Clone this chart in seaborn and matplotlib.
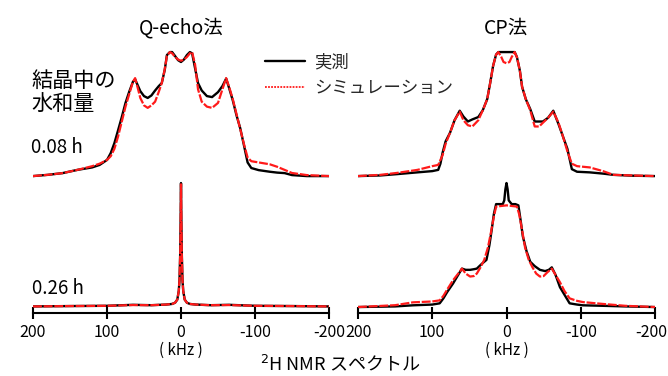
import matplotlib
matplotlib.use("Agg")
import matplotlib.pyplot as plt
import matplotlib.transforms as mtransforms
from matplotlib.lines import Line2D
import seaborn as sns
import pandas as pd

# ---------------- data (relative intensity, %) ----------------
freq_ticks = [200, 100, 0, -100, -200]
tick_labels = ["200", "100", "0", "-100", "-200"]
panel_titles = ["Q-echo法", "CP法"]
row_labels = ["0.08 h", "0.26 h"]
legend_labels = ["実測", "シミュレーション"]

# Q-echo, 0.08 h
qe08_x = [200, 180, 160, 140, 120, 110, 100, 95, 90, 85, 80, 75, 70, 65, 62, 58, 55, 50, 45, 40,
          35, 30, 26, 22, 19, 15, 12, 8, 4, 0, -4, -8, -12, -15, -19, -23, -28, -35, -42, -50,
          -56, -61, -65, -70, -75, -80, -85, -90, -95, -105, -120, -130, -140, -150, -170, -200]
qe08_meas = [0, 1, 2.4, 5, 7, 9, 13, 18.5, 26.6, 37, 47.6, 59, 68, 76, 78, 72.6, 68.5, 64.5, 63, 65,
             69, 72.6, 75, 85.5, 97.6, 100, 100, 96.8, 93.5, 92, 94, 97.6, 100, 99, 87, 75, 69, 64.5, 63.7, 67.7,
             72.6, 78.6, 71, 61, 49, 38.7, 25, 11, 6.5, 4.8, 3.5, 2.8, 2.4, 0.8, 0, 0]
qe08_sim = [0, 1, 2.4, 5, 8, 10, 13, 16, 22, 32, 44, 56, 66, 76, 79, 70, 63, 57, 55, 57,
            60, 68, 75, 86, 97, 100, 99, 96, 94, 93, 94, 96, 99, 100, 90, 70, 60, 56, 55, 59,
            70, 79, 72, 62, 50, 38, 26, 15, 12, 11, 9.5, 7.5, 5, 2.5, 0.8, 0]

# Q-echo, 0.26 h
qe26_x = [200, 150, 100, 65, 40, 20, 12, 8, 5, 3, 2, 1, 0.5, 0, -0.5, -1, -2, -3, -5, -8, -12,
          -20, -40, -65, -100, -150, -200]
qe26_meas = [0.5, 0.8, 1, 1.8, 1.5, 2, 2.5, 3.5, 6, 13, 22, 45, 70, 100, 70, 45, 22, 13, 6, 3.5, 2.5,
             2, 1.5, 1.8, 1, 0.8, 0.5]
qe26_sim = [0.5, 0.8, 1, 1.6, 1.5, 2, 2.5, 3.5, 6, 13, 22, 45, 70, 99, 70, 45, 22, 13, 6, 3.5, 2.5,
            2, 1.5, 1.6, 1, 0.8, 0.5]

# CP, 0.08 h
cp08_x = [200, 170, 147, 120, 100, 92, 89, 86, 82, 76, 70, 63, 58, 52, 46, 38, 32, 26, 22, 18, 14,
          11, 7, 4, 0, -4, -7, -11, -14, -18, -21, -26, -32, -38, -44, -49, -56, -63, -70, -76,
          -82, -88, -95, -112, -130, -144, -170, -200]
cp08_meas = [0, 0.5, 1.6, 3, 4, 5, 10, 19, 28, 35, 45, 52.7, 48, 44, 45.7, 47.6, 53, 62, 75, 89, 98,
             100, 100, 100, 100, 100, 100, 100, 96, 85, 72, 62, 54, 44, 44, 44, 47, 52.7, 42, 32,
             22, 5.6, 3.5, 3, 2, 1, 0.3, 0]
cp08_sim = [0, 1, 2.6, 5, 8, 9, 13, 17, 26, 35, 45, 52, 45, 41, 40, 45, 53, 62, 75, 89, 98,
            100, 96, 92, 91, 92, 96, 100, 96, 85, 72, 62, 53, 40, 40, 43, 47, 52, 43, 32,
            20, 10, 8, 7, 4, 1, 0.5, 0]

# CP, 0.26 h
cp26_x_meas = [200, 150, 126, 100, 90, 85, 80, 72, 65, 60, 55, 49, 44, 40, 33, 27, 23, 20, 17, 14,
               10, 5, 3, 1.5, 0, -1.5, -3, -7, -12, -16, -19, -22, -27, -32, -38, -45, -52, -57,
               -61, -66, -72, -78, -85, -95, -103, -130, -160, -200]
cp26_meas = [0, 0.5, 1.4, 2, 3, 7, 12, 19, 26, 31, 30, 30, 30.5, 31, 35, 38, 50, 62, 75, 83,
             83, 83, 86, 95, 100, 95, 86, 83, 83, 82, 70, 57, 45, 36.5, 33, 30, 29, 30,
             32, 26, 16, 10, 3, 2, 1.4, 1, 0.5, 0]
cp26_x_sim = [200, 150, 126, 100, 90, 85, 80, 72, 65, 60, 55, 49, 44, 40, 35, 30, 25, 21, 17, 14,
              0, -14, -17, -21, -25, -30, -35, -40, -45, -50, -55, -61, -66, -72, -78, -85, -95,
              -103, -130, -160, -200]
cp26_sim = [0, 1.5, 3.8, 4.5, 5.4, 9, 14, 21.6, 27, 31, 27, 24.6, 25, 27, 32, 38, 48, 60, 73, 81,
            82, 81, 75, 62, 48, 38, 32, 27, 24.6, 25, 28, 31, 26, 20, 13, 7, 5,
            4, 2.5, 1, 0]

# ---------------- style ----------------
sns.set_theme(style="white")
plt.rcParams["font.family"] = ["Noto Sans CJK JP", "DejaVu Sans"]
plt.rcParams["axes.unicode_minus"] = False

W, H = 668, 376
fig = plt.figure(figsize=(W / 100, H / 100), dpi=100)

TOP_OFFSET = 105.6
YLIM = (-4.8, 211.3)
ax_bottom = (H - 313) / H
ax_height = 268 / H
axes = [fig.add_axes([33 / W, ax_bottom, 296 / W, ax_height]),
        fig.add_axes([358 / W, ax_bottom, 297 / W, ax_height])]

panels = [
    [(qe08_x, qe08_meas, qe08_x, qe08_sim, TOP_OFFSET), (qe26_x, qe26_meas, qe26_x, qe26_sim, 0.0)],
    [(cp08_x, cp08_meas, cp08_x, cp08_sim, TOP_OFFSET), (cp26_x_meas, cp26_meas, cp26_x_sim, cp26_sim, 0.0)],
]

for ax, spectra in zip(axes, panels):
    for xm, ym, xs, ys, off in spectra:
        dm = pd.DataFrame({"f": xm, "I": [v + off for v in ym]})
        ds = pd.DataFrame({"f": xs, "I": [v + off for v in ys]})
        sns.lineplot(data=dm, x="f", y="I", ax=ax, color="black", lw=1.7,
                     sort=False, estimator=None)
        sns.lineplot(data=ds, x="f", y="I", ax=ax, color="#ff1a1a", lw=1.6,
                     sort=False, estimator=None, dashes=False)
        ax.lines[-1].set_linestyle((0, (4, 0.8)))
    ax.set_xlim(200, -200)
    ax.set_ylim(*YLIM)
    ax.set_xticks(freq_ticks)
    ax.set_xticklabels(tick_labels, fontsize=11.5)
    ax.set_xlabel("")
    ax.set_ylabel("")
    ax.set_yticks([])
    for s in ["left", "right", "top"]:
        ax.spines[s].set_visible(False)
    ax.spines["bottom"].set_color("black")
    ax.spines["bottom"].set_linewidth(1.5)
    ax.tick_params(axis="x", bottom=True, direction="inout", length=8, width=1.5,
                   color="black", pad=4, labelcolor="black")
    ax.patch.set_alpha(0)
    ax.annotate("( kHz )", xy=(0, 0), xycoords=("data", "axes fraction"),
                xytext=(0, -27), textcoords="offset points", ha="center", va="center",
                fontsize=11, color="black")

# keep the right-most tick label inside the canvas
last = axes[1].get_xticklabels()[-1]
last.set_transform(last.get_transform() +
                   mtransforms.ScaledTranslation(-4 / 100, 0, fig.dpi_scale_trans))

def ftext(x, y, s, **kw):
    fig.text(x / W, 1 - y / H, s, va="center", color="black", **kw)

ftext(181, 28, panel_titles[0], ha="center", fontsize=14)
ftext(506, 28, panel_titles[1], ha="center", fontsize=14)
ftext(31, 81, "結晶中の", ha="left", fontsize=15.2)
ftext(31, 104, "水和量", ha="left", fontsize=15.2)
ftext(31, 148, row_labels[0], ha="left", fontsize=13.5)
ftext(32, 289, row_labels[1], ha="left", fontsize=13.5)
ftext(340, 364, "$^{2}$H NMR スペクトル", ha="center", fontsize=13)

handles = [Line2D([0], [0], color="black", lw=1.7),
           Line2D([0], [0], color="#ff1a1a", lw=1.3, linestyle=(0, (1, 0.7)))]
fig.legend(handles, legend_labels, loc="upper left", bbox_to_anchor=(265 / W, 1 - 53 / H),
           frameon=False, fontsize=12.5, handlelength=2.3, handletextpad=0.55,
           labelspacing=0.45, borderpad=0, borderaxespad=0)

fig.savefig("out.png", dpi=100)
